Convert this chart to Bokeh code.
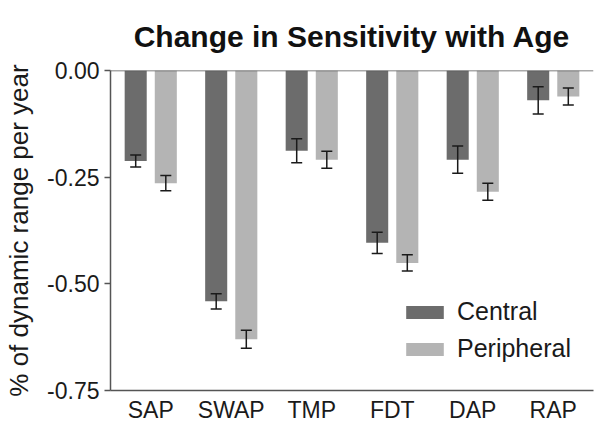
from bokeh.plotting import figure
from bokeh.models import (ColumnDataSource, FactorRange, Range1d, FixedTicker, NumeralTickFormatter,
                          Whisker, TeeHead, Span, Legend, LegendItem)
from bokeh.transform import dodge
from bokeh.embed import file_html
from bokeh.resources import INLINE

categories = ["SAP", "SWAP", "TMP", "FDT", "DAP", "RAP"]
central = [-0.212, -0.541, -0.188, -0.404, -0.209, -0.070]
central_err = [0.014, 0.018, 0.028, 0.025, 0.032, 0.032]
peripheral = [-0.264, -0.630, -0.209, -0.451, -0.284, -0.061]
peripheral_err = [0.018, 0.021, 0.020, 0.019, 0.020, 0.020]
y_ticks = [0.0, -0.25, -0.5, -0.75]
title_text = "Change in Sensitivity with Age"

src = ColumnDataSource(dict(
    cat=categories,
    central=central,
    c_lo=[v - e for v, e in zip(central, central_err)],
    c_hi=[v + e for v, e in zip(central, central_err)],
    peripheral=peripheral,
    p_lo=[v - e for v, e in zip(peripheral, peripheral_err)],
    p_hi=[v + e for v, e in zip(peripheral, peripheral_err)],
))

FONT = "Liberation Sans"

p = figure(x_range=FactorRange(*categories, range_padding=0), y_range=Range1d(-0.75, 0.0),
           frame_width=483, frame_height=320, title=title_text,
           min_border_left=110, min_border_top=70, min_border_right=2, min_border_bottom=30,
           output_backend="svg", toolbar_location=None)

p.title.text_font = FONT
p.title.text_font_size = "30px"
p.title.text_font_style = "bold"
p.title.text_color = "#111111"
p.title.align = "center"
p.title.vertical_align = "top"
p.title.standoff = 32

off = 0.187
w = 0.274
r1 = p.vbar(x=dodge("cat", -off, range=p.x_range), top="central", bottom=0, width=w,
            source=src, fill_color="#6c6c6c", line_color=None)
r2 = p.vbar(x=dodge("cat", off, range=p.x_range), top="peripheral", bottom=0, width=w,
            source=src, fill_color="#b4b4b4", line_color=None)

for xoff, lo, hi in [(-off, "c_lo", "c_hi"), (off, "p_lo", "p_hi")]:
    wk = Whisker(base=dodge("cat", xoff, range=p.x_range), lower=lo, upper=hi, source=src,
                 line_color="#1a1a1a", line_width=1.5, level="overlay",
                 upper_head=TeeHead(size=11, line_color="#1a1a1a", line_width=1.5),
                 lower_head=TeeHead(size=11, line_color="#1a1a1a", line_width=1.5))
    p.add_layout(wk)

p.add_layout(Span(location=0, dimension="width", line_color="#555555", line_width=1.5))

p.xgrid.visible = False
p.ygrid.visible = False
p.outline_line_color = None

p.yaxis.ticker = FixedTicker(ticks=y_ticks)
p.yaxis.formatter = NumeralTickFormatter(format="0.00")
p.yaxis.minor_tick_line_color = None
p.yaxis.major_tick_in = 0
p.yaxis.major_tick_out = 6
p.yaxis.major_label_text_font = FONT
p.yaxis.major_label_text_font_size = "23px"
p.yaxis.major_label_text_color = "#1a1a1a"
p.yaxis.axis_label = "% of dynamic range per year"
p.yaxis.axis_label_text_font = FONT
p.yaxis.axis_label_text_font_size = "26px"
p.yaxis.axis_label_text_font_style = "normal"
p.yaxis.axis_label_text_color = "#1a1a1a"
p.yaxis.axis_label_standoff = 10

for ax in (p.xaxis, p.yaxis):
    ax.axis_line_color = "#555555"
    ax.axis_line_width = 1.5
    ax.major_tick_line_color = "#555555"
    ax.major_tick_line_width = 1.5

p.xaxis.major_tick_in = 0
p.xaxis.major_tick_out = 0
p.xaxis.major_label_standoff = 6
p.xaxis.major_label_text_font = FONT
p.xaxis.major_label_text_font_size = "23px"
p.xaxis.major_label_text_color = "#1a1a1a"

legend = Legend(items=[LegendItem(label="Central", renderers=[r1]),
                       LegendItem(label="Peripheral", renderers=[r2])],
                location=(291, 27), padding=0, margin=0, spacing=8,
                glyph_width=47, glyph_height=16, label_standoff=9,
                label_text_font=FONT, label_text_font_size="25px", label_text_color="#1a1a1a",
                border_line_alpha=0, background_fill_alpha=0)
p.add_layout(legend)

open("out.html", "w").write(file_html(p, INLINE))
